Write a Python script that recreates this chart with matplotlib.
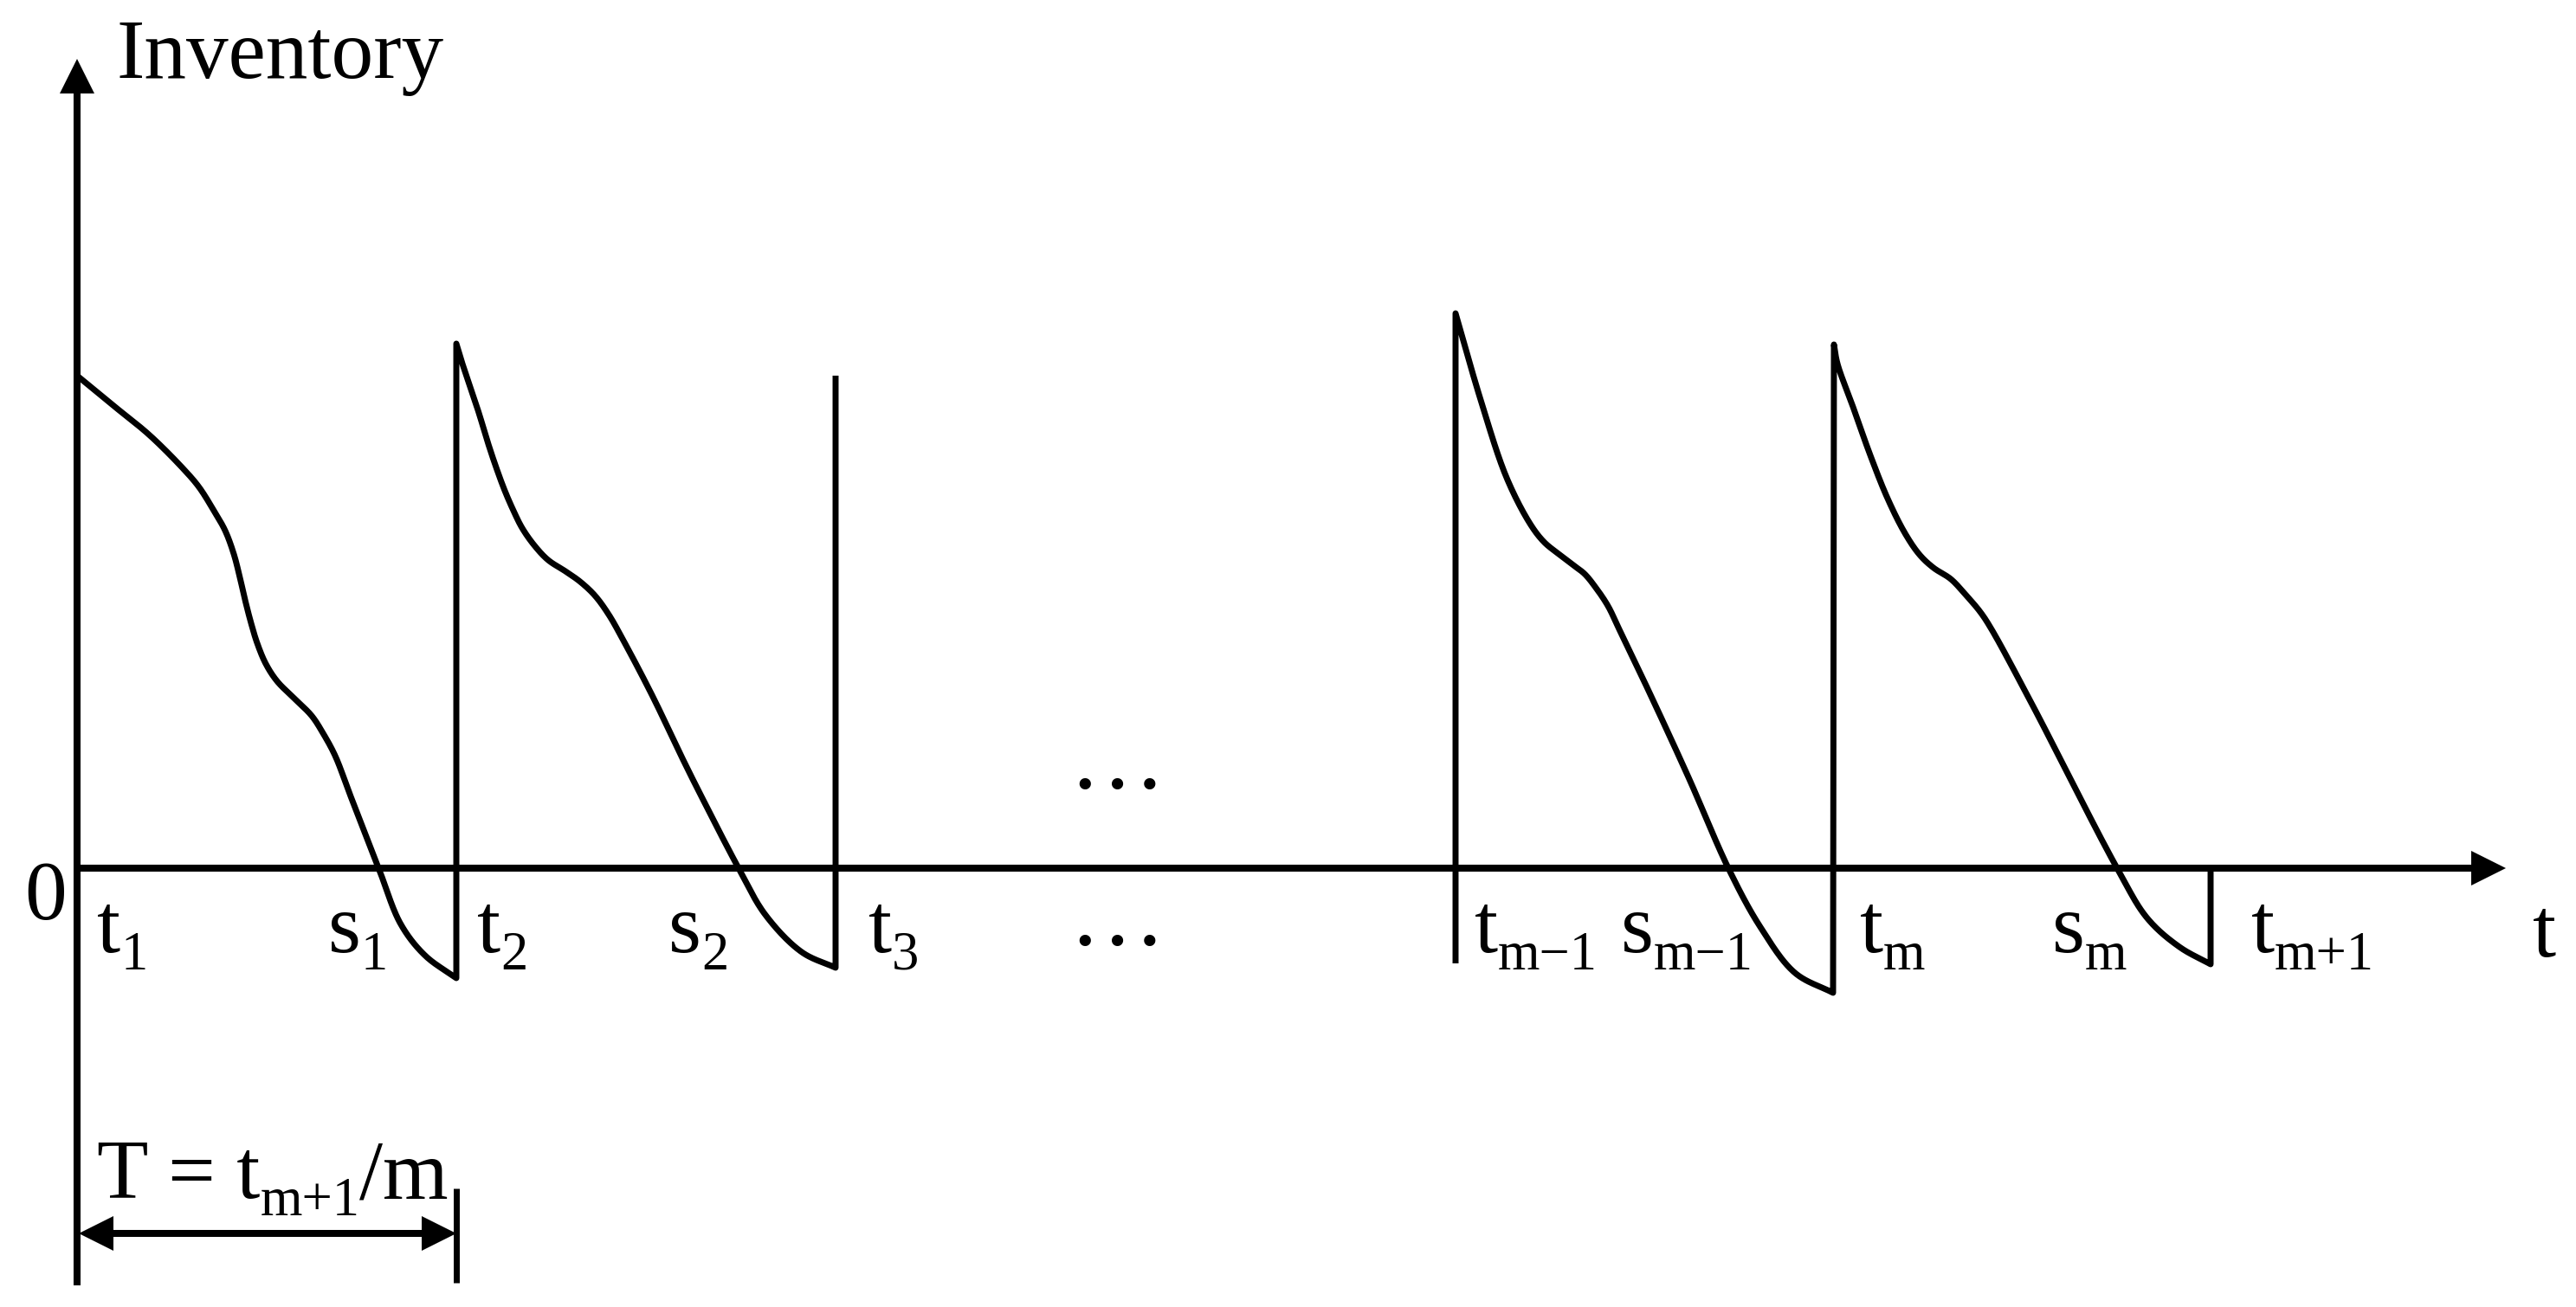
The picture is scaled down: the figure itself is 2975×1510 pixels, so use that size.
import numpy as np
import matplotlib
matplotlib.use("Agg")
import matplotlib.pyplot as plt
from matplotlib.patches import Polygon

plt.rcParams['font.family'] = ['Liberation Serif', 'DejaVu Serif']

# ---- data (time units, inventory units; 0 = time origin / zero inventory) ----
# replenishment epochs
t_marks = [0.00, 4.38, 8.76, 15.92, 20.29, 24.64]

# inventory curve of cycle 1
c1_t = [0.00, 0.40, 0.84, 1.24, 1.41, 1.58, 1.71, 1.81, 1.88, 1.94, 2.01, 2.08,
        2.18, 2.31, 2.51, 2.71, 2.84, 2.98, 3.16, 3.49, 3.74, 4.02, 4.38]
c1_y = [5.69, 5.36, 5.00, 4.60, 4.40, 4.13, 3.90, 3.63, 3.36, 3.10, 2.83, 2.60,
        2.36, 2.16, 1.96, 1.76, 1.56, 1.30, 0.83, -0.02, -0.65, -1.01, -1.27]
# cycle 2
c2_t = [4.38, 4.44, 4.54, 4.64, 4.74, 4.84, 4.94, 5.04, 5.14, 5.28, 5.44, 5.64, 5.81, 5.98,
        6.14, 6.31, 6.64, 7.01, 7.21, 7.64, 7.95, 8.37, 8.76]
c2_y = [6.06, 5.86, 5.56, 5.26, 4.93, 4.63, 4.36, 4.13, 3.93, 3.73, 3.56, 3.43, 3.31, 3.15,
        2.93, 2.63, 2.00, 1.23, 0.83, 0.00, -0.54, -0.97, -1.15]
t3_top = 5.69
# cycle m-1
cm1_t = [15.92, 16.21, 16.51, 16.78, 16.94, 17.11, 17.28, 17.41, 17.54, 17.68, 17.81, 18.14,
         18.61, 19.08, 19.44, 19.84, 20.28]
cm1_y = [6.41, 5.41, 4.51, 3.98, 3.77, 3.63, 3.50, 3.40, 3.24, 3.03, 2.76, 2.07,
         1.05, -0.02, -0.68, -1.21, -1.44]
tm1_bottom = -1.10
# cycle m
cm_t = [20.29, 20.33, 20.51, 20.71, 20.91, 21.11, 21.28, 21.44, 21.64, 21.81, 21.98, 22.11,
        22.58, 23.56, 23.91, 24.28, 24.64]
cm_y = [6.05, 5.83, 5.33, 4.77, 4.27, 3.87, 3.62, 3.47, 3.34, 3.16, 2.96, 2.76,
        1.89, 0.00, -0.58, -0.91, -1.11]

# axis labels: main letter, subscript, left x
label_main = ['t', 's', 't', 's', 't', 't', 's', 't', 's', 't']
label_sub = ['1', '1', '2', '2', '3', 'm\u22121', 'm\u22121', 'm', 'm', 'm+1']
label_x = [0.23, 2.90, 4.62, 6.83, 9.14, 16.14, 17.83, 20.59, 22.81, 25.11]
label_base = -0.97

# ---- geometry of the drawing ----
X_MIN, X_MAX = -0.89, 28.86
Y_MIN, Y_MAX = -5.07, 10.03
x_axis_tip = 28.05
y_axis_tip = 9.35
y_axis_bottom = -4.82
head_len, head_half = 0.40, 0.20


def smooth(xs, ys, n=24):
    """Centripetal Catmull-Rom through the read-off points, only for a smooth stroke."""
    P = np.column_stack([xs, ys]).astype(float)
    P = np.vstack([2 * P[0] - P[1], P, 2 * P[-1] - P[-2]])
    out = []
    alpha = 0.5
    for i in range(1, len(P) - 2):
        p0, p1, p2, p3 = P[i - 1], P[i], P[i + 1], P[i + 2]
        t0 = 0.0
        t1 = t0 + np.linalg.norm(p1 - p0) ** alpha
        t2 = t1 + np.linalg.norm(p2 - p1) ** alpha
        t3 = t2 + np.linalg.norm(p3 - p2) ** alpha
        tt = np.linspace(t1, t2, n, endpoint=False)[:, None]
        A1 = (t1 - tt) / (t1 - t0) * p0 + (tt - t0) / (t1 - t0) * p1
        A2 = (t2 - tt) / (t2 - t1) * p1 + (tt - t1) / (t2 - t1) * p2
        A3 = (t3 - tt) / (t3 - t2) * p2 + (tt - t2) / (t3 - t2) * p3
        B1 = (t2 - tt) / (t2 - t0) * A1 + (tt - t0) / (t2 - t0) * A2
        B2 = (t3 - tt) / (t3 - t1) * A2 + (tt - t1) / (t3 - t1) * A3
        C = (t2 - tt) / (t2 - t1) * B1 + (tt - t1) / (t2 - t1) * B2
        out.append(C)
    out.append(P[-2][None, :])
    out = np.vstack(out)
    return out[:, 0], out[:, 1]


fig = plt.figure(figsize=(29.75, 15.10), dpi=100)
ax = fig.add_axes([0, 0, 1, 1])
ax.set_xlim(X_MIN, X_MAX)
ax.set_ylim(Y_MIN, Y_MAX)
ax.axis('off')
renderer = fig.canvas.get_renderer()

LW_AX = 5.8
LW = 5.0
K = 'black'

# axes
ax.plot([0, 0], [y_axis_bottom, y_axis_tip - head_len], color=K, lw=LW_AX, solid_capstyle='butt')
ax.plot([0, x_axis_tip - head_len], [0, 0], color=K, lw=LW_AX, solid_capstyle='butt')
ax.add_patch(Polygon([[0, y_axis_tip], [-head_half, y_axis_tip - head_len],
                      [head_half, y_axis_tip - head_len]], closed=True, color=K, lw=0))
ax.add_patch(Polygon([[x_axis_tip, 0], [x_axis_tip - head_len, head_half],
                      [x_axis_tip - head_len, -head_half]], closed=True, color=K, lw=0))

# inventory path: cycles 1-2
x1, y1 = smooth(c1_t, c1_y)
x2, y2 = smooth(c2_t, c2_y)
px = np.concatenate([x1, [t_marks[1]], x2, [t_marks[2]]])
py = np.concatenate([y1, [c2_y[0]], y2, [t3_top]])
ax.plot(px, py, color=K, lw=LW, solid_joinstyle='round', solid_capstyle='butt')

# cycles m-1 and m
xm1, ym1 = smooth(cm1_t, cm1_y)
xm, ym = smooth(cm_t, cm_y)
qx = np.concatenate([[t_marks[3]], xm1, [t_marks[4]], xm, [t_marks[5]]])
qy = np.concatenate([[tm1_bottom], ym1, [cm_y[0]], ym, [0.0]])
ax.plot(qx, qy, color=K, lw=LW, solid_joinstyle='round', solid_capstyle='butt')

FS = 70
SUB_FS = 45
SUB_DROP = 0.20


def sub_text(x, y, main, sub, after=''):
    t = ax.text(x, y, main, fontsize=FS, ha='left', va='baseline')
    bb = t.get_window_extent(renderer)
    xs = ax.transData.inverted().transform((bb.x1, 0))[0]
    s = ax.text(xs, y - SUB_DROP, sub, fontsize=SUB_FS, ha='left', va='baseline')
    if after:
        bb2 = s.get_window_extent(renderer)
        xa = ax.transData.inverted().transform((bb2.x1, 0))[0]
        ax.text(xa, y, after, fontsize=FS, ha='left', va='baseline')


# texts
ax.text(0.45, 9.13, 'Inventory', fontsize=FS, ha='left', va='baseline')
ax.text(-0.61, -0.59, '0', fontsize=FS, ha='left', va='baseline')
ax.text(28.36, -1.02, 't', fontsize=FS, ha='left', va='baseline')
for m, s, x in zip(label_main, label_sub, label_x):
    sub_text(x, label_base, m, s)

ax.text(12.01, 0.93, '\u2026', fontsize=80, ha='center', va='baseline')
ax.text(12.01, -0.88, '\u2026', fontsize=80, ha='center', va='baseline')

# period indicator T
sub_text(0.23, -3.81, 'T = t', 'm+1', after='/m')
ya = -4.22
ax.plot([head_len, t_marks[1] - head_len], [ya, ya], color=K, lw=LW_AX, solid_capstyle='butt')
ax.add_patch(Polygon([[0.02, ya], [0.02 + head_len, ya + head_half], [0.02 + head_len, ya - head_half]],
                     closed=True, color=K, lw=0))
ax.add_patch(Polygon([[t_marks[1], ya], [t_marks[1] - head_len, ya + head_half],
                      [t_marks[1] - head_len, ya - head_half]], closed=True, color=K, lw=0))
ax.plot([t_marks[1], t_marks[1]], [-3.70, -4.79], color=K, lw=LW, solid_capstyle='butt')

fig.savefig('out.png', dpi=100, facecolor='white')
